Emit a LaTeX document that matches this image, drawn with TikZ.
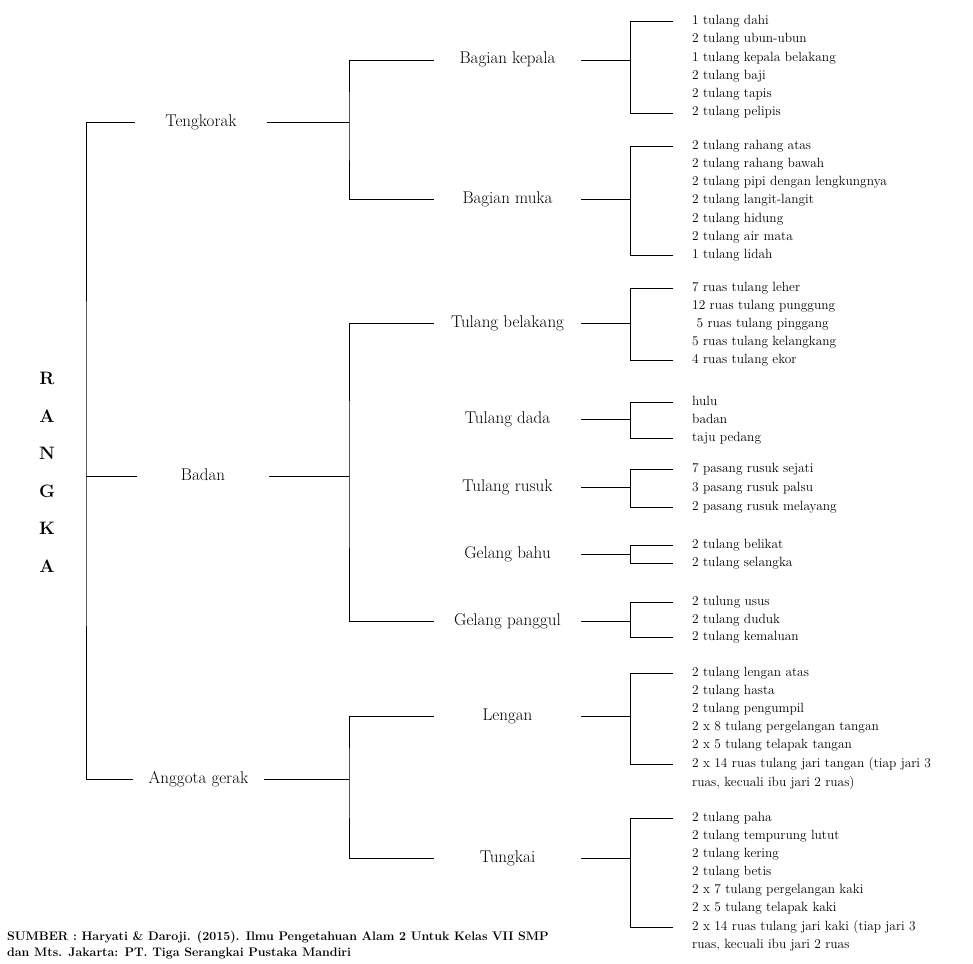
\documentclass[tikz,border=0pt]{standalone}
\usepackage{tikz}

\tikzset{
    part/.style={minimum width=131pt, inner sep=0pt, font=\fontsize{17}{18}\selectfont, text height=11pt, text depth=3pt},
    subpart/.style={minimum width=147pt, inner sep=0pt, font=\fontsize{17}{18}\selectfont, text height=11pt, text depth=3pt},
    item/.style={anchor=west, inner xsep=19pt, inner ysep=0pt, font=\fontsize{13.4}{16}\selectfont, text height=9pt, text depth=3pt},
    bone/.style={line width=0.9pt},
}

\begin{document}
\begin{tikzpicture}[x=1pt, y=-1pt]
    \useasboundingbox (0,0) rectangle (973,963);

    % root
    \node[align=center, font=\bfseries\fontsize{18}{37.5}\selectfont] (rangka) at (47,472.5) {R\\A\\N\\G\\K\\A};

    % first level
    \node[part] (tengkorak) at (201,122.5) {Tengkorak};
    \node[part] (badan) at (203,476.5) {Badan};
    \node[part] (anggota) at (198.5,779) {Anggota gerak};
    \coordinate (rangka-bar) at (86,476.5);

    % second level
    \node[subpart] (kepala) at (507.5,60) {Bagian kepala};
    \node[subpart] (muka) at (507.5,199) {Bagian muka};
    \node[subpart] (belakang) at (507.5,323.5) {Tulang belakang};
    \node[subpart] (dada) at (507.5,419.5) {Tulang dada};
    \node[subpart] (rusuk) at (507.5,487.5) {Tulang rusuk};
    \node[subpart] (bahu) at (507.5,554) {Gelang bahu};
    \node[subpart] (panggul) at (507.5,621) {Gelang panggul};
    \node[subpart] (lengan) at (507.5,716) {Lengan};
    \node[subpart] (tungkai) at (507.5,858) {Tungkai};
    \coordinate (tengkorak-bar) at (349,122.5);
    \coordinate (badan-bar) at (349,476.5);
    \coordinate (anggota-bar) at (349,779);

    % bagian kepala
    \node[item] (kepala-1) at (673,21.5) {1 tulang dahi};
    \node[item] (kepala-2) at (673,39.8) {2 tulang ubun-ubun};
    \node[item] (kepala-3) at (673,58.1) {1 tulang kepala belakang};
    \node[item] (kepala-4) at (673,76.4) {2 tulang baji};
    \node[item] (kepala-5) at (673,94.7) {2 tulang tapis};
    \node[item] (kepala-6) at (673,113) {2 tulang pelipis};

    % bagian muka
    \node[item] (muka-1) at (673,146) {2 tulang rahang atas};
    \node[item] (muka-2) at (673,164.3) {2 tulang rahang bawah};
    \node[item] (muka-3) at (673,182.6) {2 tulang pipi dengan lengkungnya};
    \node[item] (muka-4) at (673,200.9) {2 tulang langit-langit};
    \node[item] (muka-5) at (673,219.2) {2 tulang hidung};
    \node[item] (muka-6) at (673,237.5) {2 tulang air mata};
    \node[item] (muka-7) at (673,255.8) {1 tulang lidah};

    % tulang belakang
    \node[item] (belakang-1) at (673,288) {7 ruas tulang leher};
    \node[item] (belakang-2) at (673,306) {12 ruas tulang punggung};
    \node[item] (belakang-3) at (673,324) {\ 5 ruas tulang pinggang};
    \node[item] (belakang-4) at (673,342) {5 ruas tulang kelangkang};
    \node[item] (belakang-5) at (673,360) {4 ruas tulang ekor};

    % tulang dada
    \node[item] (dada-1) at (673,402) {hulu};
    \node[item] (dada-2) at (673,420) {badan};
    \node[item] (dada-3) at (673,438) {taju pedang};

    % tulang rusuk
    \node[item] (rusuk-1) at (673,469.5) {7 pasang rusuk sejati};
    \node[item] (rusuk-2) at (673,488.5) {3 pasang rusuk palsu};
    \node[item] (rusuk-3) at (673,507) {2 pasang rusuk melayang};

    % gelang bahu
    \node[item] (bahu-1) at (673,545.5) {2 tulang belikat};
    \node[item] (bahu-2) at (673,563) {2 tulang selangka};

    % gelang panggul
    \node[item] (panggul-1) at (673,602) {2 tulung usus};
    \node[item] (panggul-2) at (673,620) {2 tulang duduk};
    \node[item] (panggul-3) at (673,637) {2 tulang kemaluan};

    % lengan
    \node[item] (lengan-1) at (673,673) {2 tulang lengan atas};
    \node[item] (lengan-2) at (673,691.5) {2 tulang hasta};
    \node[item] (lengan-3) at (673,709.5) {2 tulang pengumpil};
    \node[item] (lengan-4) at (673,727.5) {2 x 8 tulang pergelangan tangan};
    \node[item] (lengan-5) at (673,745.5) {2 x 5 tulang telapak tangan};
    \node[item] (lengan-6) at (673,764.5) {2 x 14 ruas tulang jari tangan (tiap jari 3};
    \node[item] (lengan-7) at (673,783) {ruas, kecuali ibu jari 2 ruas)};

    % tungkai
    \node[item] (tungkai-1) at (673,818) {2 tulang paha};
    \node[item] (tungkai-2) at (673,836) {2 tulang tempurung lutut};
    \node[item] (tungkai-3) at (673,854.5) {2 tulang kering};
    \node[item] (tungkai-4) at (673,872.5) {2 tulang betis};
    \node[item] (tungkai-5) at (673,890.5) {2 x 7 tulang pergelangan kaki};
    \node[item] (tungkai-6) at (673,908.5) {2 x 5 tulang telapak kaki};
    \node[item] (tungkai-7) at (673,927) {2 x 14 ruas tulang jari kaki (tiap jari 3};
    \node[item] (tungkai-8) at (673,945) {ruas, kecuali ibu jari 2 ruas};

    \coordinate (kepala-bar) at (630,60);
    \coordinate (muka-bar) at (630,199);
    \coordinate (belakang-bar) at (630,323.5);
    \coordinate (dada-bar) at (630,419.5);
    \coordinate (rusuk-bar) at (630,487.5);
    \coordinate (bahu-bar) at (630,554);
    \coordinate (panggul-bar) at (630,621);
    \coordinate (lengan-bar) at (630,716);
    \coordinate (tungkai-bar) at (630,858);

    % brackets
    \draw[bone] (tengkorak.west) -| (rangka-bar) |- (anggota.west);
    \draw[bone] (badan.west) -- (rangka-bar);

    \draw[bone] (kepala.west) -| (tengkorak-bar) |- (muka.west);
    \draw[bone] (tengkorak.east) -- (tengkorak-bar);
    \draw[bone] (belakang.west) -| (badan-bar) |- (panggul.west);
    \draw[bone] (badan.east) -- (badan-bar);
    \draw[bone] (lengan.west) -| (anggota-bar) |- (tungkai.west);
    \draw[bone] (anggota.east) -- (anggota-bar);

    \draw[bone] (kepala-1.west) -| (kepala-bar) |- (kepala-6.west);
    \draw[bone] (kepala.east) -- (kepala-bar);
    \draw[bone] (muka-1.west) -| (muka-bar) |- (muka-7.west);
    \draw[bone] (muka.east) -- (muka-bar);
    \draw[bone] (belakang-1.west) -| (belakang-bar) |- (belakang-5.west);
    \draw[bone] (belakang.east) -- (belakang-bar);
    \draw[bone] (dada-1.west) -| (dada-bar) |- (dada-3.west);
    \draw[bone] (dada.east) -- (dada-bar);
    \draw[bone] (rusuk-1.west) -| (rusuk-bar) |- (rusuk-3.west);
    \draw[bone] (rusuk.east) -- (rusuk-bar);
    \draw[bone] (bahu-1.west) -| (bahu-bar) |- (bahu-2.west);
    \draw[bone] (bahu.east) -- (bahu-bar);
    \draw[bone] (panggul-1.west) -| (panggul-bar) |- (panggul-3.west);
    \draw[bone] (panggul.east) -- (panggul-bar);
    \draw[bone] (lengan-1.west) -| (lengan-bar) |- (lengan-6.west);
    \draw[bone] (lengan.east) -- (lengan-bar);
    \draw[bone] (tungkai-1.west) -| (tungkai-bar) |- (tungkai-7.west);
    \draw[bone] (tungkai.east) -- (tungkai-bar);

    % source
    \node[anchor=west, align=left, inner sep=0pt, font=\bfseries\fontsize{12.4}{16}\selectfont] (sumber) at (7,945)
        {SUMBER : Haryati \& Daroji. (2015). Ilmu Pengetahuan Alam 2 Untuk Kelas VII SMP\\
         dan Mts. Jakarta: PT. Tiga Serangkai Pustaka Mandiri};
\end{tikzpicture}
\end{document}
